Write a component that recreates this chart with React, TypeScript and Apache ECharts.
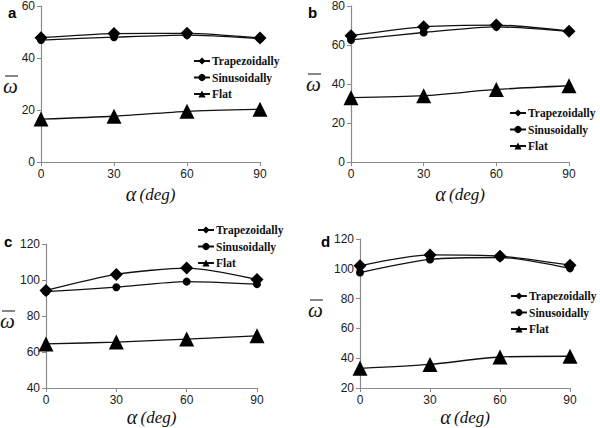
import React, { useEffect, useRef } from "react";
import * as echarts from "echarts";

const alphaDeg = [0, 30, 60, 90];
const seriesNames = ["Trapezoidally", "Sinusoidally", "Flat"];
const panelLabels = ["a", "b", "c", "d"];

const trapA = [47.8, 49.4, 49.5, 47.7];
const sinA = [46.9, 48.0, 48.8, 47.5];
const flatA = [16.5, 17.6, 19.5, 20.3];

const trapB = [64.8, 69.3, 70.2, 67.1];
const sinB = [62.6, 66.4, 69.3, 67.0];
const flatB = [33.0, 34.0, 37.2, 39.1];

const trapC = [94.2, 103.1, 106.6, 100.3];
const sinC = [93.5, 96.0, 99.1, 97.7];
const flatC = [64.5, 65.5, 67.2, 69.0];

const trapD = [102.0, 109.3, 108.5, 102.4];
const sinD = [97.5, 106.3, 107.6, 100.3];
const flatD = [33.2, 35.8, 40.8, 41.3];

const yMin = [0, 0, 40, 20];
const yMax = [60, 80, 120, 120];
const yStep = 20;

const panelData = [
  [trapA, sinA, flatA],
  [trapB, sinB, flatB],
  [trapC, sinC, flatC],
  [trapD, sinD, flatD],
];

// layout
const grids = [
  { left: 41, top: 6, width: 219, height: 156 },
  { left: 351, top: 6, width: 218, height: 156 },
  { left: 46, top: 244, width: 211, height: 147 },
  { left: 360, top: 239, width: 210, height: 152 },
];
const legendPos = [
  { left: 188, top: 50 },
  { left: 504, top: 102 },
  { left: 192, top: 219 },
  { left: 505, top: 285 },
];
const nameGaps = [22, 22, 19, 19];
const letterPos = [
  { x: 8, y: 12 },
  { x: 308, y: 12 },
  { x: 4, y: 241 },
  { x: 321, y: 241 },
];
const omegaPos = [
  { x: 3, y: 86 },
  { x: 306, y: 84 },
  { x: 0, y: 321 },
  { x: 308, y: 310 },
];

const symbols = ["diamond", "circle", "triangle"];
const symbolSizes = [13, 8, 15];

export default function App() {
  const ref = useRef<HTMLDivElement>(null);
  useEffect(() => {
    if (!ref.current) return;
    const chart = echarts.init(ref.current, null, { renderer: "svg" });
    const axisColor = "#8a8a8a";
    const xAxes = grids.map((_, i) => ({
      type: "value",
      gridIndex: i,
      min: 0,
      max: 90,
      interval: 30,
      splitLine: { show: false },
      axisLine: { show: true, lineStyle: { color: axisColor, width: 1.2 } },
      axisTick: { show: true, length: 4, lineStyle: { color: axisColor } },
      axisLabel: { color: "#1a1a1a", fontSize: 12, fontFamily: "Liberation Sans", margin: 6 },
      name: "{a|α} {b|(deg)}",
      nameLocation: "middle",
      nameGap: nameGaps[i],
      nameTextStyle: {
        rich: {
          a: { fontFamily: "Liberation Serif", fontStyle: "italic", fontSize: 20, color: "#111" },
          b: { fontFamily: "Liberation Serif", fontStyle: "italic", fontSize: 17, color: "#111" },
        },
      },
    }));
    const yAxes = grids.map((_, i) => ({
      type: "value",
      gridIndex: i,
      min: yMin[i],
      max: yMax[i],
      interval: yStep,
      splitLine: { show: false },
      axisLine: { show: true, lineStyle: { color: axisColor, width: 1.2 } },
      axisTick: { show: true, length: 4, lineStyle: { color: axisColor } },
      axisLabel: { color: "#1a1a1a", fontSize: 12, fontFamily: "Liberation Sans", margin: 6 },
    }));
    const series: any[] = [];
    panelData.forEach((arrs, p) => {
      arrs.forEach((vals, s) => {
        series.push({
          type: "line",
          name: seriesNames[s],
          xAxisIndex: p,
          yAxisIndex: p,
          data: alphaDeg.map((a, k) => [a, vals[k]]),
          smooth: 0.25,
          symbol: symbols[s],
          symbolSize: symbolSizes[s],
          lineStyle: { color: "#111", width: 1.3 },
          itemStyle: { color: "#000" },
          z: 3 - s,
        });
      });
    });
    const legends = legendPos.map((pos) => ({
      orient: "vertical",
      left: pos.left,
      top: pos.top,
      data: seriesNames,
      itemWidth: 16,
      itemHeight: 9,
      itemGap: 4.5,
      selectedMode: false,
      formatter: "{t|{name}}",
      textStyle: {
        fontFamily: "Liberation Serif",
        fontWeight: "bold",
        fontSize: 11.5,
        color: "#111",
        rich: {
          t: {
            fontFamily: "Liberation Serif",
            fontWeight: "bold",
            fontSize: 11.5,
            color: "#111",
            padding: [0, 0, 0, -3],
          },
        },
      },
    }));
    const graphics: any[] = [];
    panelLabels.forEach((l, i) => {
      graphics.push({
        type: "text",
        x: letterPos[i].x,
        y: letterPos[i].y,
        style: {
          text: l,
          font: "bold 15px 'Liberation Sans'",
          fill: "#000",
          verticalAlign: "middle",
        },
      });
      graphics.push({
        type: "text",
        x: omegaPos[i].x,
        y: omegaPos[i].y,
        style: {
          text: "ω",
          font: "italic 21px 'Liberation Serif'",
          fill: "#111",
          verticalAlign: "middle",
        },
      });
      graphics.push({
        type: "line",
        shape: {
          x1: omegaPos[i].x + 2,
          y1: omegaPos[i].y - 10,
          x2: omegaPos[i].x + 15,
          y2: omegaPos[i].y - 10,
        },
        style: { stroke: "#111", lineWidth: 1 },
      });
    });
    chart.setOption({
      animation: false,
      backgroundColor: "#fff",
      grid: grids.map((g) => ({ ...g, containLabel: false })),
      xAxis: xAxes,
      yAxis: yAxes,
      legend: legends,
      series,
      graphic: graphics,
    });
    return () => chart.dispose();
  }, []);
  return (
    <div
      ref={ref}
      style={{ position: "fixed", left: 0, top: 0, width: 600, height: 428, background: "#fff" }}
    />
  );
}
